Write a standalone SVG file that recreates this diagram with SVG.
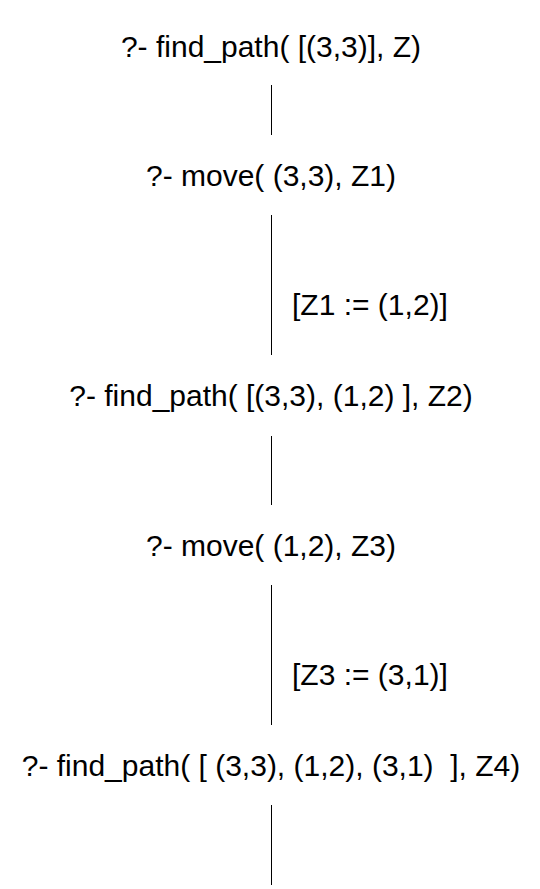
<svg xmlns="http://www.w3.org/2000/svg" width="540" height="889" viewBox="0 0 540 889">
<style>
.q{font-family:"Liberation Sans",Arial,sans-serif;font-size:30px;fill:#000;text-anchor:middle;white-space:pre}
.l{font-family:"Liberation Sans",Arial,sans-serif;font-size:30px;fill:#000;white-space:pre}
.c{stroke:#000;stroke-width:1;fill:none}
</style>
<rect width="540" height="889" fill="#fff"/>
<g id="connectors">
<line class="c" x1="271.5" y1="85" x2="271.5" y2="135"/>
<line class="c" x1="271.5" y1="215" x2="271.5" y2="355"/>
<line class="c" x1="271.5" y1="436" x2="271.5" y2="505"/>
<line class="c" x1="271.5" y1="585" x2="271.5" y2="725"/>
<line class="c" x1="271.5" y1="805" x2="271.5" y2="885"/>
<text class="l" x="292" y="315">[Z1 := (1,2)]</text>
<text class="l" x="292" y="685">[Z3 := (3,1)]</text>
</g>
<g id="n1"><text class="q" x="271" y="57">?- find_path( [(3,3)], Z)</text></g>
<g id="n2"><text class="q" x="271" y="186">?- move( (3,3), Z1)</text></g>
<g id="n3"><text class="q" x="271" y="406">?- find_path( [(3,3), (1,2) ], Z2)</text></g>
<g id="n4"><text class="q" x="271" y="556">?- move( (1,2), Z3)</text></g>
<g id="n5"><text class="q" x="271" y="776" xml:space="preserve">?- find_path( [ (3,3), (1,2), (3,1)  ], Z4)</text></g>
</svg>
